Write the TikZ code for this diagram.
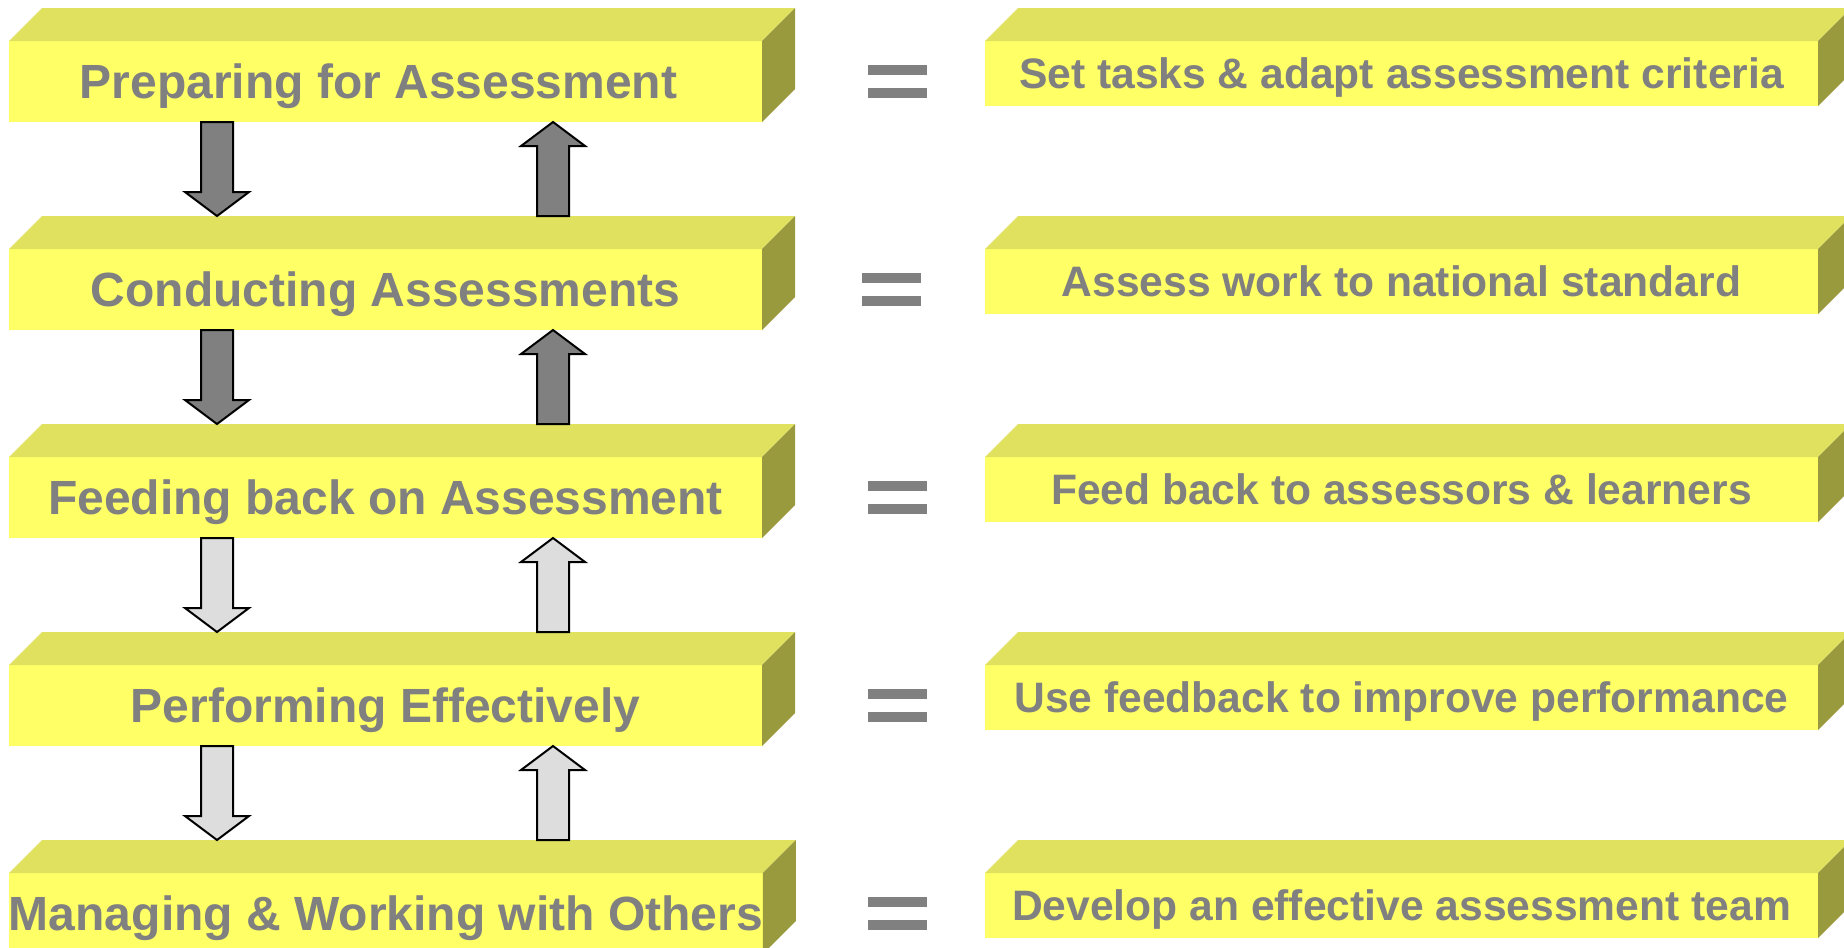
\documentclass[tikz,border=0pt]{standalone}
\usepackage{fontspec}
\setmainfont{Liberation Sans}
\usetikzlibrary{calc}
\definecolor{frontY}{RGB}{255,255,102}
\definecolor{topY}{RGB}{225,225,96}
\definecolor{sideY}{RGB}{153,153,61}
\definecolor{txtgray}{RGB}{128,128,128}
\definecolor{darkarr}{RGB}{128,128,128}
\definecolor{lightarr}{RGB}{221,221,221}
\tikzset{
 frontface/.style={fill=frontY, inner sep=0pt, outer sep=0pt, anchor=north west, text=txtgray, text depth=0pt},
 leftbox/.style={frontface, minimum width=376.5pt, minimum height=40.5pt, text height=17.2pt, font=\fontsize{24}{28}\selectfont\bfseries},
 rightbox/.style={frontface, minimum width=416.5pt, minimum height=32.5pt, text height=15.3pt, font=\fontsize{21.3}{25}\selectfont\bfseries},
 topface/.style={fill=topY},
 sideface/.style={fill=sideY},
 blk/.style={draw=black, line width=1pt, line join=miter},
 eqbar/.style={fill=txtgray},
}
\newcommand\threed[1]{%
 \fill[topface] (#1.north west) -- ++(33,-33) -- ($(#1.north east)+(33,-33)$) -- (#1.north east) -- cycle;
 \fill[sideface] (#1.north east) -- ++(33,-33) -- ($(#1.south east)+(33,-33)$) -- (#1.south east) -- cycle;}
\newcommand\myDown[3]{\draw[blk,fill=#3] ($(#1)+(-16,0)$) -- ($(#2)+(-16,-24)$) -- ($(#2)+(-32,-24)$) -- (#2) -- ($(#2)+(32,-24)$) -- ($(#2)+(16,-24)$) -- ($(#1)+(16,0)$) -- cycle;}
\newcommand\myUp[3]{\draw[blk,fill=#3] ($(#1)+(-16,0)$) -- ($(#2)+(-16,24)$) -- ($(#2)+(-32,24)$) -- (#2) -- ($(#2)+(32,24)$) -- ($(#2)+(16,24)$) -- ($(#1)+(16,0)$) -- cycle;}
\begin{document}
\begin{tikzpicture}[x=0.5pt,y=-0.5pt]
\useasboundingbox (0,0) rectangle (1844,948);
\clip (0,0) rectangle (1844,948);
\fill[white] (0,0) rectangle (1844,948);
\foreach \i/\lt/\rt in {
 1/{Preparing for Assessment\kern7pt}/{Set tasks \& adapt assessment criteria},
 2/{Conducting Assessments}/{Assess work to national standard},
 3/{Feeding back on Assessment}/{Feed back to assessors \& learners},
 4/{Performing Effectively}/{Use feedback to improve performance},
 5/{Managing \& Working with Others}/{Develop an effective assessment team}} {
 \node[leftbox] (L\i) at (9,{41+208*(\i-1)}) {\lt};
 \node[rightbox] (R\i) at (985,{41+208*(\i-1)}) {\rt};
 \threed{L\i}
 \threed{R\i}
}
% equals signs
\foreach \k/\ex in {0/868,1/862,2/868,3/868,4/868} {
 \fill[eqbar] (\ex,{65+208*\k}) rectangle ({\ex+59},{75+208*\k});
 \fill[eqbar] (\ex,{88+208*\k}) rectangle ({\ex+59},{98+208*\k});
}
% arrows
\foreach \i/\j/\c in {1/2/darkarr,2/3/darkarr,3/4/lightarr,4/5/lightarr} {
 \coordinate (d\i s) at ($(L\i.south west)+(208,0)$);
 \coordinate (d\i e) at ($(L\j.north west)+(208,-33)$);
 \coordinate (u\i s) at ($(L\j.north west)+(544,-33)$);
 \coordinate (u\i e) at ($(L\i.south west)+(544,0)$);
 \myDown{d\i s}{d\i e}{\c}
 \myUp{u\i s}{u\i e}{\c}
}
\end{tikzpicture}
\end{document}
